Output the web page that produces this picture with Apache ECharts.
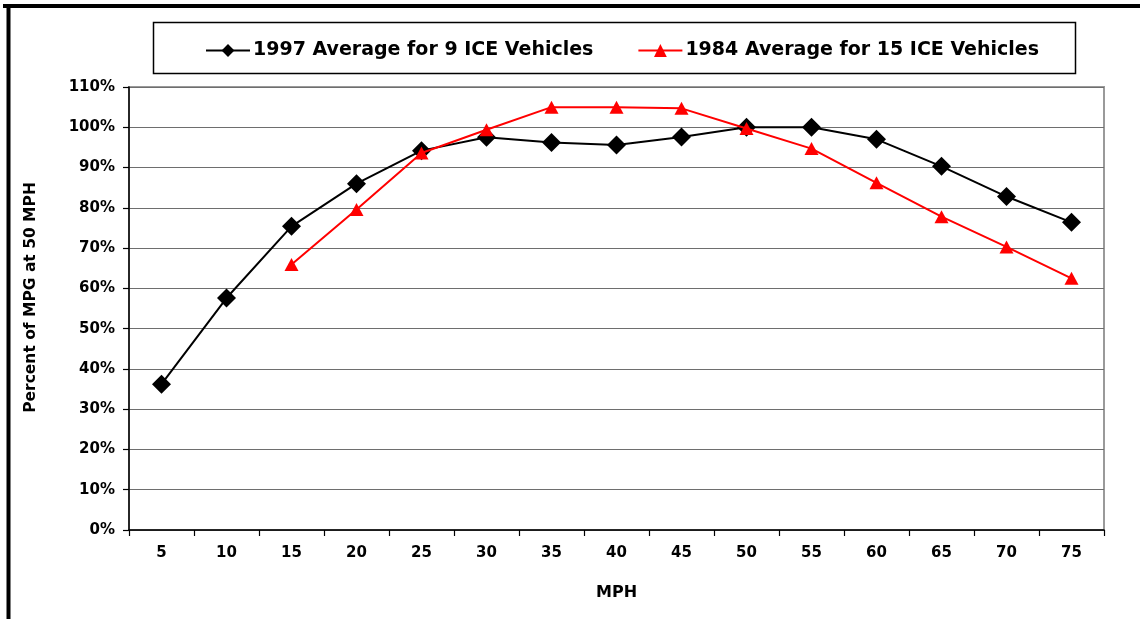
<!DOCTYPE html>
<html>
<head>
<meta charset="utf-8">
<script src="https://cdn.jsdelivr.net/npm/echarts@6/dist/echarts.min.js"></script>
<style>
  html, body { margin: 0; padding: 0; background: #fff; }
  #chart { width: 1140px; height: 619px; }
</style>
</head>
<body>
<div id="chart"></div>
<script>
// Speed categories (MPH)
const speeds = ['5', '10', '15', '20', '25', '30', '35', '40', '45', '50', '55', '60', '65', '70', '75'];

// Fuel economy as percent of MPG at 50 MPH
const avg1997 = [36.2, 57.6, 75.4, 86.0, 94.2, 97.5, 96.2, 95.6, 97.6, 100.0, 100.0, 97.0, 90.3, 82.8, 76.4];
const avg1984 = [null, null, 65.9, 79.6, 93.6, 99.4, 105.0, 105.0, 104.7, 99.7, 94.7, 86.2, 77.8, 70.3, 62.5];

const seriesNames = ['1997 Average for 9 ICE Vehicles', '1984 Average for 15 ICE Vehicles'];

const FONT = '"DejaVu Sans"';

const chart = echarts.init(document.getElementById('chart'), null, { renderer: 'canvas' });

chart.setOption({
  animation: false,
  backgroundColor: '#fff',
  textStyle: { fontFamily: FONT, color: '#000' },
  graphic: [
    // outer frame (top and left edges)
    { type: 'line', shape: { x1: 3, y1: 6, x2: 1140, y2: 6 }, style: { stroke: '#000', lineWidth: 4 }, z: 10 },
    { type: 'line', shape: { x1: 8.5, y1: 4, x2: 8.5, y2: 619 }, style: { stroke: '#000', lineWidth: 4 }, z: 10 },
    // legend box
    { type: 'rect', shape: { x: 153.5, y: 22.5, width: 922, height: 51 }, style: { fill: '#fff', stroke: '#000', lineWidth: 1.5 }, z: 0 }
  ],
  legend: {
    data: seriesNames,
    left: 200,
    top: 36,
    itemWidth: 44,
    itemHeight: 16,
    itemGap: 44,
    lineStyle: { width: 2 },
    textStyle: { fontFamily: FONT, fontWeight: 'bold', fontSize: 19, color: '#000', padding: [0, 0, 0, -2] },
    z: 5
  },
  grid: {
    left: 129,
    right: 36,
    top: 87,
    bottom: 89,
    show: true,
    borderColor: '#9a9a9a',
    borderWidth: 2,
    containLabel: false
  },
  xAxis: {
    type: 'category',
    data: speeds,
    boundaryGap: true,
    name: 'MPH',
    nameLocation: 'middle',
    nameGap: 55,
    nameTextStyle: { fontFamily: FONT, fontWeight: 'bold', fontSize: 16, color: '#000' },
    axisLine: { show: true, lineStyle: { color: '#000', width: 1.5 } },
    axisTick: { show: true, alignWithLabel: false, length: 6, lineStyle: { color: '#000', width: 1.2 } },
    axisLabel: { fontFamily: FONT, fontWeight: 'bold', fontSize: 15, color: '#000', margin: 16 },
    splitLine: { show: false }
  },
  yAxis: {
    type: 'value',
    min: 0,
    max: 110,
    interval: 10,
    name: 'Percent of MPG at 50 MPH',
    nameLocation: 'middle',
    nameGap: 90,
    nameRotate: 90,
    nameTextStyle: { fontFamily: FONT, fontWeight: 'bold', fontSize: 15.5, color: '#000', padding: [0, 0, 0, 22] },
    axisLine: { show: true, lineStyle: { color: '#000', width: 1.5 } },
    axisTick: { show: true, inside: false, length: 6, lineStyle: { color: '#000', width: 1.2 } },
    axisLabel: { fontFamily: FONT, fontWeight: 'bold', fontSize: 15, color: '#000', margin: 14, formatter: '{value}%' },
    splitLine: { show: true, lineStyle: { color: '#6e6e6e', width: 1.2 } }
  },
  series: [
    {
      name: seriesNames[0],
      type: 'line',
      data: avg1997,
      symbol: 'diamond',
      symbolSize: 19,
      itemStyle: { color: '#000' },
      lineStyle: { color: '#000', width: 2 },
      z: 3
    },
    {
      name: seriesNames[1],
      type: 'line',
      data: avg1984,
      symbol: 'triangle',
      symbolSize: [14, 13],
      connectNulls: false,
      itemStyle: { color: '#ff0000' },
      lineStyle: { color: '#ff0000', width: 2 },
      z: 4
    }
  ]
});
</script>
</body>
</html>
